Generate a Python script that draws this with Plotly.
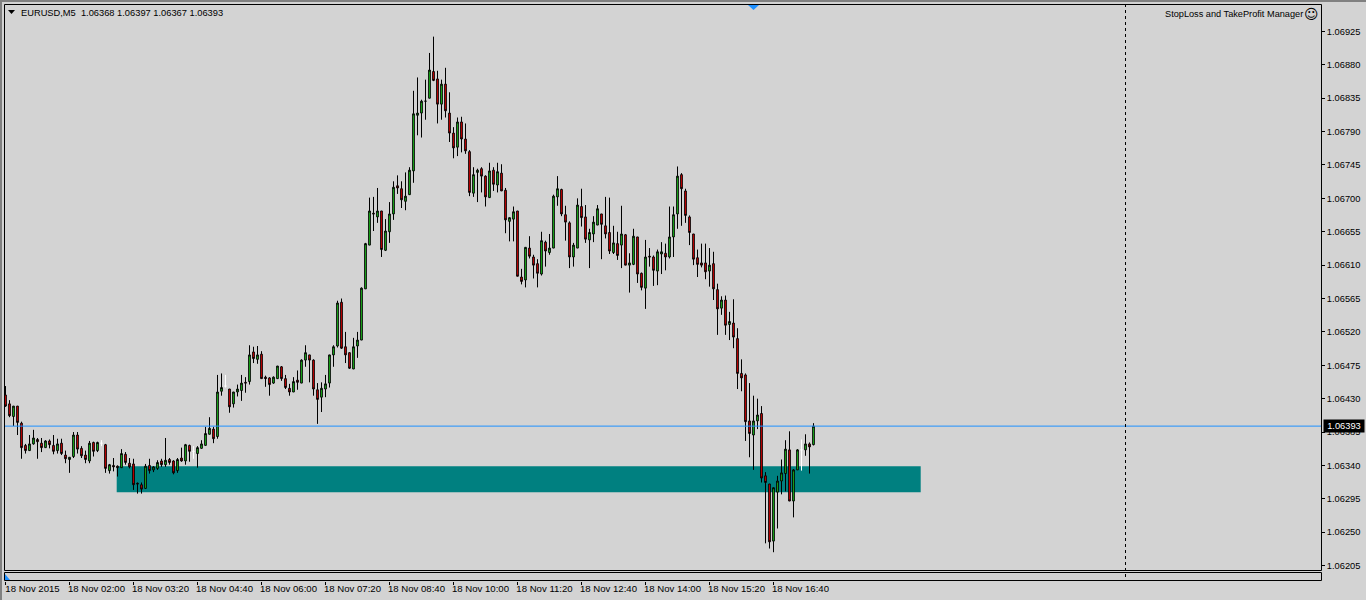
import plotly.graph_objects as go
import pandas as pd

# Prices are given in points above 1.00000 (6393 means 1.06393)
open_pts = [
6435,6423,6406,6420,6397,6367,6360,6369,6375,6370,
6364,6373,6367,6360,6370,6354,6348,6352,6381,6363,
6354,6346,6371,6360,6370,6368,6333,6340,6339,6337,
6355,6343,6342,6316,6314,6309,6340,6334,6336,6346,
6341,6348,6346,6333,6350,6346,6367,6359,6356,6363,
6367,6382,6389,6379,6440,6447,6443,6423,6439,6441,
6452,6453,6493,6483,6490,6459,6458,6451,6457,6473,
6457,6444,6439,6455,6451,6482,6489,6482,6442,6432,
6443,6451,6489,6501,6560,6500,6492,6470,6501,6509,
6578,6637,6680,6675,6683,6630,6655,6679,6717,6713,
6696,6705,6737,6812,6815,6831,6835,6871,6861,6827,
6854,6815,6788,6769,6803,6780,6763,6707,6735,6740,
6730,6701,6738,6718,6734,6711,6669,6672,6683,6594,
6590,6633,6621,6612,6598,6641,6627,6633,6702,6712,
6678,6667,6621,6633,6689,6675,6644,6652,6664,6679,
6663,6654,6627,6639,6637,6651,6610,6611,6648,6599,
6579,6622,6621,6602,6625,6626,6621,6648,6679,6732,
6710,6675,6652,6620,6613,6613,6602,6612,6577,6552,
6563,6530,6532,6511,6464,6462,6400,6381,6400,6410,
6326,6315,6238,6304,6319,6329,6361,6292,6334,6361,
6361,6369,6368]
high_pts = [
6447,6428,6420,6420,6399,6369,6381,6388,6377,6377,
6374,6375,6381,6376,6376,6360,6351,6385,6385,6366,
6360,6373,6372,6372,6374,6369,6342,6350,6340,6362,
6358,6350,6349,6317,6317,6342,6349,6339,6347,6349,
6377,6350,6347,6350,6364,6369,6368,6366,6366,6374,
6392,6405,6392,6462,6464,6462,6443,6439,6449,6462,
6459,6502,6500,6501,6494,6461,6459,6460,6474,6474,
6462,6450,6459,6468,6483,6502,6489,6483,6451,6452,
6462,6489,6502,6562,6565,6520,6492,6512,6520,6580,
6640,6701,6702,6714,6683,6672,6695,6723,6731,6723,
6735,6742,6845,6863,6833,6860,6896,6918,6872,6860,
6876,6843,6796,6809,6810,6801,6765,6742,6740,6742,
6731,6748,6742,6748,6746,6714,6674,6689,6683,6605,
6634,6649,6624,6618,6655,6643,6652,6705,6730,6713,
6690,6669,6640,6700,6713,6691,6659,6676,6691,6679,
6702,6701,6663,6655,6690,6652,6626,6659,6648,6600,
6644,6633,6623,6631,6641,6639,6689,6689,6743,6734,
6713,6677,6652,6631,6639,6639,6633,6628,6585,6568,
6569,6547,6564,6525,6483,6464,6451,6434,6430,6420,
6331,6315,6310,6326,6348,6374,6386,6335,6362,6375,
6382,6371,6397]
low_pts = [
6419,6405,6393,6381,6349,6356,6360,6368,6349,6358,
6364,6363,6355,6356,6354,6343,6330,6350,6356,6350,
6343,6343,6352,6358,6366,6330,6329,6332,6325,6337,
6341,6336,6307,6302,6302,6309,6329,6331,6334,6338,
6338,6341,6328,6330,6345,6341,6345,6349,6337,6363,
6367,6382,6370,6376,6434,6445,6411,6418,6433,6427,
6438,6449,6478,6477,6457,6446,6434,6450,6457,6454,
6443,6434,6439,6442,6451,6473,6452,6434,6396,6412,
6432,6445,6473,6499,6497,6478,6470,6470,6485,6509,
6578,6637,6656,6667,6621,6629,6640,6671,6706,6687,
6684,6705,6721,6785,6782,6806,6835,6858,6801,6806,
6809,6776,6754,6757,6762,6760,6703,6702,6695,6708,
6689,6701,6710,6708,6710,6653,6642,6642,6595,6584,
6580,6619,6592,6580,6596,6608,6624,6633,6690,6676,
6643,6606,6608,6633,6662,6640,6606,6641,6664,6618,
6646,6625,6625,6617,6606,6610,6573,6610,6586,6576,
6551,6608,6582,6583,6598,6603,6619,6621,6659,6663,
6667,6637,6610,6594,6607,6591,6581,6563,6516,6543,
6516,6509,6498,6443,6440,6373,6351,6334,6389,6317,
6235,6228,6223,6255,6301,6305,6292,6270,6334,6333,
6353,6329,6367]
close_pts = [
6420,6407,6420,6398,6364,6360,6369,6377,6372,6364,
6373,6368,6359,6369,6356,6349,6351,6381,6362,6353,
6348,6370,6359,6371,6370,6336,6341,6338,6337,6356,
6344,6338,6314,6315,6308,6339,6333,6338,6344,6341,
6347,6344,6330,6348,6346,6368,6359,6359,6364,6369,
6383,6390,6376,6439,6445,6447,6419,6439,6443,6451,
6451,6489,6484,6489,6457,6457,6449,6459,6474,6457,
6445,6439,6453,6452,6482,6492,6482,6443,6429,6444,
6450,6489,6500,6559,6498,6489,6471,6500,6509,6579,
6639,6683,6679,6683,6631,6656,6679,6715,6714,6698,
6703,6738,6814,6815,6831,6831,6873,6859,6827,6854,
6818,6788,6768,6803,6780,6764,6708,6732,6738,6730,
6702,6737,6719,6736,6710,6671,6674,6682,6595,6588,
6634,6622,6610,6599,6643,6629,6633,6703,6713,6679,
6668,6621,6637,6691,6674,6645,6654,6668,6686,6665,
6652,6629,6640,6623,6652,6610,6613,6649,6598,6580,
6621,6621,6603,6628,6628,6621,6648,6678,6730,6713,
6677,6654,6618,6611,6610,6601,6610,6578,6551,6563,
6529,6534,6513,6464,6458,6399,6383,6400,6408,6323,
6317,6237,6310,6319,6330,6362,6292,6334,6361,6361,
6369,6365,6393]
white_bars = [24, 47, 55, 199]  # unchanged bars, drawn white

y_tick_pts = [6925,6880,6835,6790,6745,6700,6655,6610,6565,6520,6475,6430,6385,6340,6295,6250,6205]
x_tick_times = ["2015-11-18 00:40","2015-11-18 02:00","2015-11-18 03:20","2015-11-18 04:40",
                "2015-11-18 06:00","2015-11-18 07:20","2015-11-18 08:40","2015-11-18 10:00",
                "2015-11-18 11:20","2015-11-18 12:40","2015-11-18 14:00","2015-11-18 15:20",
                "2015-11-18 16:40"]
x_tick_text = ["18 Nov 2015","18 Nov 02:00","18 Nov 03:20","18 Nov 04:40","18 Nov 06:00",
               "18 Nov 07:20","18 Nov 08:40","18 Nov 10:00","18 Nov 11:20","18 Nov 12:40",
               "18 Nov 14:00","18 Nov 15:20","18 Nov 16:40"]
bid = 1.06393
zone_low, zone_high = 1.06304, 1.06339
zone_start, zone_end = "2015-11-18 02:59", "2015-11-18 19:44"
separator_time = "2015-11-19 00:00"
x_range = ["2015-11-18 00:38:07.5", "2015-11-19 04:04:22.5"]
y_range = [1.061977, 1.069620]

W, H = 1366, 600
def px(x): return x / W
def py(y): return 1 - y / H

times = pd.date_range("2015-11-18 00:40", periods=len(open_pts), freq="5min")
price = lambda a: [1 + v / 1e5 for v in a]
o, h, l, c = price(open_pts), price(high_pts), price(low_pts), price(close_pts)
main = [i for i in range(len(o)) if i not in white_bars]
take = lambda a, idx: [a[i] for i in idx]

BG = "#D3D3D3"
FONT = "Liberation Sans"

fig = go.Figure()
fig.add_trace(go.Candlestick(
    x=take(times, main), open=take(o, main), high=take(h, main), low=take(l, main), close=take(c, main),
    whiskerwidth=0,
    increasing=dict(line=dict(color="black", width=1), fillcolor="#22E022"),
    decreasing=dict(line=dict(color="black", width=1), fillcolor="#FF0000"),
    showlegend=False, hoverinfo="skip"))
fig.add_trace(go.Candlestick(
    x=take(times, white_bars), open=take(o, white_bars), high=take(h, white_bars),
    low=take(l, white_bars), close=take(c, white_bars),
    whiskerwidth=0,
    increasing=dict(line=dict(color="white", width=1), fillcolor="white"),
    decreasing=dict(line=dict(color="white", width=1), fillcolor="white"),
    showlegend=False, hoverinfo="skip"))

def box(x0, y0, x1, y1, **kw):
    return dict(type="rect", xref="paper", yref="paper", x0=px(x0), x1=px(x1), y0=py(y1), y1=py(y0), **kw)

shapes = [
    dict(type="rect", xref="x", yref="y", x0=zone_start, x1=zone_end, y0=zone_low, y1=zone_high,
         fillcolor="#008080", line=dict(width=0), layer="below"),
    dict(type="line", xref="paper", yref="y", x0=px(4), x1=px(1321), y0=bid, y1=bid,
         line=dict(color="#1E90FF", width=1), layer="above"),
    dict(type="line", xref="x", yref="paper", x0=separator_time, x1=separator_time, y0=py(577), y1=py(4),
         line=dict(color="black", width=1, dash="3px,3px"), layer="above"),
    box(4.5, 4.5, 1321.5, 570.5, line=dict(color="black", width=1), fillcolor="rgba(0,0,0,0)", layer="above"),
    box(4.5, 572.5, 1321.5, 580.5, line=dict(color="black", width=1), fillcolor="rgba(0,0,0,0)", layer="above"),
    box(0, 0, W, 2, line=dict(width=0), fillcolor="#808080", layer="above"),
    box(0, 0, 2, H, line=dict(width=0), fillcolor="#808080", layer="above"),
    dict(type="path", xref="paper", yref="paper", layer="above", fillcolor="black", line=dict(width=0),
         path=f"M {px(8)} {py(10)} L {px(15)} {py(10)} L {px(11.5)} {py(14)} Z"),
    dict(type="path", xref="paper", yref="paper", layer="above", fillcolor="#1E90FF", line=dict(width=0),
         path=f"M {px(748)} {py(5)} L {px(759)} {py(5)} L {px(753.5)} {py(10)} Z"),
    dict(type="path", xref="paper", yref="paper", layer="above", fillcolor="#1E90FF", line=dict(width=0),
         path=f"M {px(5)} {py(574)} L {px(10)} {py(580)} L {px(5)} {py(580)} Z"),
]

annotations = [
    dict(xref="paper", yref="paper", x=px(18.5), y=py(12.5), xanchor="left", yanchor="middle", showarrow=False,
         text="EURUSD,M5  1.06368 1.06397 1.06367 1.06393", font=dict(family=FONT, size=9.3, color="black")),
    dict(xref="paper", yref="paper", x=px(1304.5), y=py(14), xanchor="right", yanchor="middle", showarrow=False,
         text="StopLoss and TakeProfit Manager", font=dict(family=FONT, size=9.2, color="black")),
    dict(xref="paper", yref="paper", x=px(1311), y=py(14), xanchor="center", yanchor="middle", showarrow=False,
         text="\u263a", font=dict(family="DejaVu Sans", size=14, color="black")),
    dict(xref="paper", yref="y", x=px(1323), y=bid, xanchor="left", yanchor="middle", showarrow=False,
         text="1.06393", bgcolor="black", borderpad=1, font=dict(family=FONT, size=9.3, color="white"),
         width=38, align="center"),
]

fig.update_layout(
    width=W, height=H, autosize=False, boxgap=0.4,
    margin=dict(l=0, r=0, t=0, b=0), paper_bgcolor=BG, plot_bgcolor=BG, showlegend=False,
    font=dict(family=FONT, size=9.6, color="black"),
    shapes=shapes, annotations=annotations,
    xaxis=dict(
        type="date", domain=[px(4), px(1321)], range=x_range, anchor="free", position=py(580.5),
        rangeslider=dict(visible=False), showgrid=False, zeroline=False, showline=False,
        tickmode="array", tickvals=x_tick_times, ticktext=x_tick_text,
        ticks="outside", ticklen=3, tickcolor="black", tickwidth=1, ticklabelshift=27, ticklabelstandoff=-4,
        tickfont=dict(family=FONT, size=9.6, color="black")),
    yaxis=dict(
        domain=[py(571), py(4)], range=y_range, side="right", anchor="x", showgrid=False, zeroline=False,
        showline=False, tickmode="array", tickvals=price(y_tick_pts), tickformat=".5f",
        ticks="outside", ticklen=3, tickcolor="black", tickwidth=1,
        tickfont=dict(family=FONT, size=9.3, color="black")),
)
fig.write_html("out.html", config={"displayModeBar": False},
               post_script="document.body.style.margin='0';")
